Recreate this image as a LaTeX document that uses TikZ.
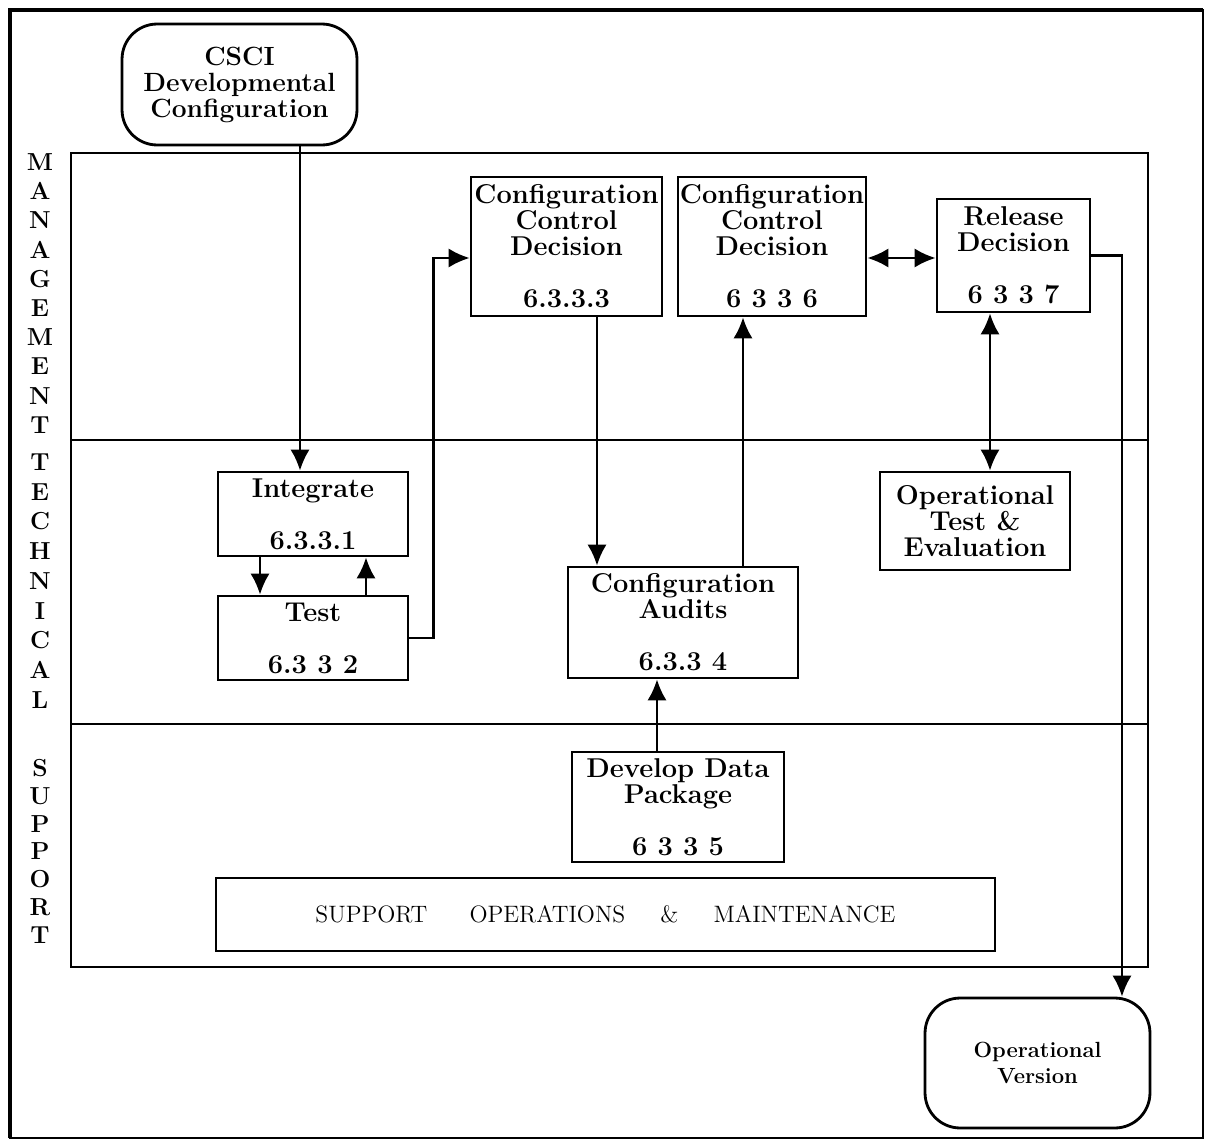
\documentclass[tikz,border=0pt]{standalone}
\usepackage{tikz}
\usetikzlibrary{arrows.meta}
\tikzset{>={Latex[length=12pt,width=11pt]}}
\tikzstyle{proc}=[draw,line width=1.6pt,align=center,inner sep=0pt,
                  font=\fontsize{15.5}{14.8}\selectfont\bfseries]
\tikzstyle{term}=[proc,rounded corners=20pt]
\tikzstyle{flow}=[->,line width=1.4pt]
\tikzstyle{biflow}=[<->,line width=1.4pt]
\tikzstyle{lane}=[line width=1.6pt]
\tikzset{
  sideletter/.style={font=\fontsize{14}{14}\selectfont\bfseries,inner sep=0pt},
  supportbar/.style={draw,line width=1.6pt,inner sep=0pt,
                     font=\fontsize{13.5}{14}\selectfont}}

\begin{document}
\begin{tikzpicture}[x=0.02cm,y=-0.02cm]
  \def\gap{14.8pt}
  \useasboundingbox (0,0) rectangle (1211,1143);

  % FRAMES
  \draw[lane] (10,10) rectangle (1203,1138);
  \draw[line width=2.6pt] (10,1138) -- (10,10) -- (1203,10);
  \draw[lane] (71,153) rectangle (1148,967);
  \draw[lane] (71,440) -- (1148,440);
  \draw[lane] (71,724) -- (1148,724);

  % SIDE LABEL
  \foreach \l [count=\i] in {M,A,N,A,G,E,M,E,N,T}
    \node[sideletter] (mg\i) at (40,{162+(\i-1)*29.2}) {\l};
  \foreach \l [count=\i] in {T,E,C,H,N,I,C,A,L}
    \node[sideletter] (tc\i) at (40,{462+(\i-1)*29.75}) {\l};
  \foreach \l [count=\i] in {S,U,P,P,O,R,T}
    \node[sideletter] (sp\i) at (40,{768+(\i-1)*27.8}) {\l};

  % TERMINALS
  \node[term,minimum width=4.7cm,minimum height=2.42cm,
        font=\fontsize{15}{14.8}\selectfont\bfseries] (csci) at (239.5,84.5)
    {CSCI\\Developmental\\Configuration};
  \node[term,minimum width=4.5cm,minimum height=2.6cm,
        font=\fontsize{12.5}{14.8}\selectfont\bfseries] (opver) at (1037.5,1063)
    {Operational\\Version};

  % MANAGEMENT
  \node[proc,minimum width=3.82cm,minimum height=2.78cm] (ccd1) at (566.5,246.5)
    {Configuration\\Control\\Decision\\[\gap]6.3.3.3};
  \node[proc,minimum width=3.76cm,minimum height=2.78cm] (ccd2) at (772,246.5)
    {Configuration\\Control\\Decision\\[\gap]6 3 3 6};
  \node[proc,minimum width=3.06cm,minimum height=2.26cm] (rel) at (1013.5,255.5)
    {Release\\Decision\\[\gap]6 3 3 7};

  % TECHNICAL
  \node[proc,minimum width=3.8cm,minimum height=1.68cm] (integ) at (313,514)
    {Integrate\\[\gap]6.3.3.1};
  \node[proc,minimum width=3.8cm,minimum height=1.68cm] (test) at (313,638)
    {Test\\[\gap]6.3 3 2};
  \node[proc,minimum width=4.6cm,minimum height=2.22cm] (audit) at (683,622.5)
    {Configuration\\Audits\\[\gap]6.3.3 4};
  \node[proc,minimum width=3.8cm,minimum height=1.96cm] (ote) at (975,521)
    {Operational\\Test \&\\Evaluation};

  % SUPPORT
  \node[proc,minimum width=4.24cm,minimum height=2.2cm] (ddp) at (678,807)
    {Develop Data\\Package\\[\gap]6 3 3 5};
  \node[supportbar,minimum width=15.58cm,minimum height=1.46cm] (som) at (605.5,914.5)
    {SUPPORT\hspace{24pt}OPERATIONS\hspace{20pt}\&\hspace{20pt}MAINTENANCE};

  % FLOWS
  \draw[flow] ([xshift=-0.26cm]integ.north |- csci.south) -- ([xshift=-0.26cm]integ.north);
  \draw[flow] ([xshift=-1.06cm]integ.south) -- ([xshift=-1.06cm]test.north);
  \draw[flow] ([xshift=1.06cm]test.north) -- ([xshift=1.06cm]integ.south);
  \draw[flow] (test.east) -- ++(0.48cm,0) |- ([yshift=-0.23cm]ccd1.west);
  \draw[flow] ([xshift=0.61cm]ccd1.south) -- ([xshift=0.61cm]ccd1.south |- audit.north);
  \draw[flow] ([xshift=-0.58cm]ccd2.south |- audit.north) -- ([xshift=-0.58cm]ccd2.south);
  \draw[biflow] ([yshift=-0.23cm]ccd2.east) -- ([yshift=-0.23cm]ccd2.east -| rel.west);
  \draw[biflow] ([xshift=-0.47cm]rel.south) -- ([xshift=-0.47cm]rel.south |- ote.north);
  \draw[flow] ([xshift=-0.42cm]ddp.north) -- ([xshift=-0.42cm]ddp.north |- audit.south);
  \draw[flow] (rel.east) -| ([xshift=1.69cm]opver.north);
\end{tikzpicture}
\end{document}
